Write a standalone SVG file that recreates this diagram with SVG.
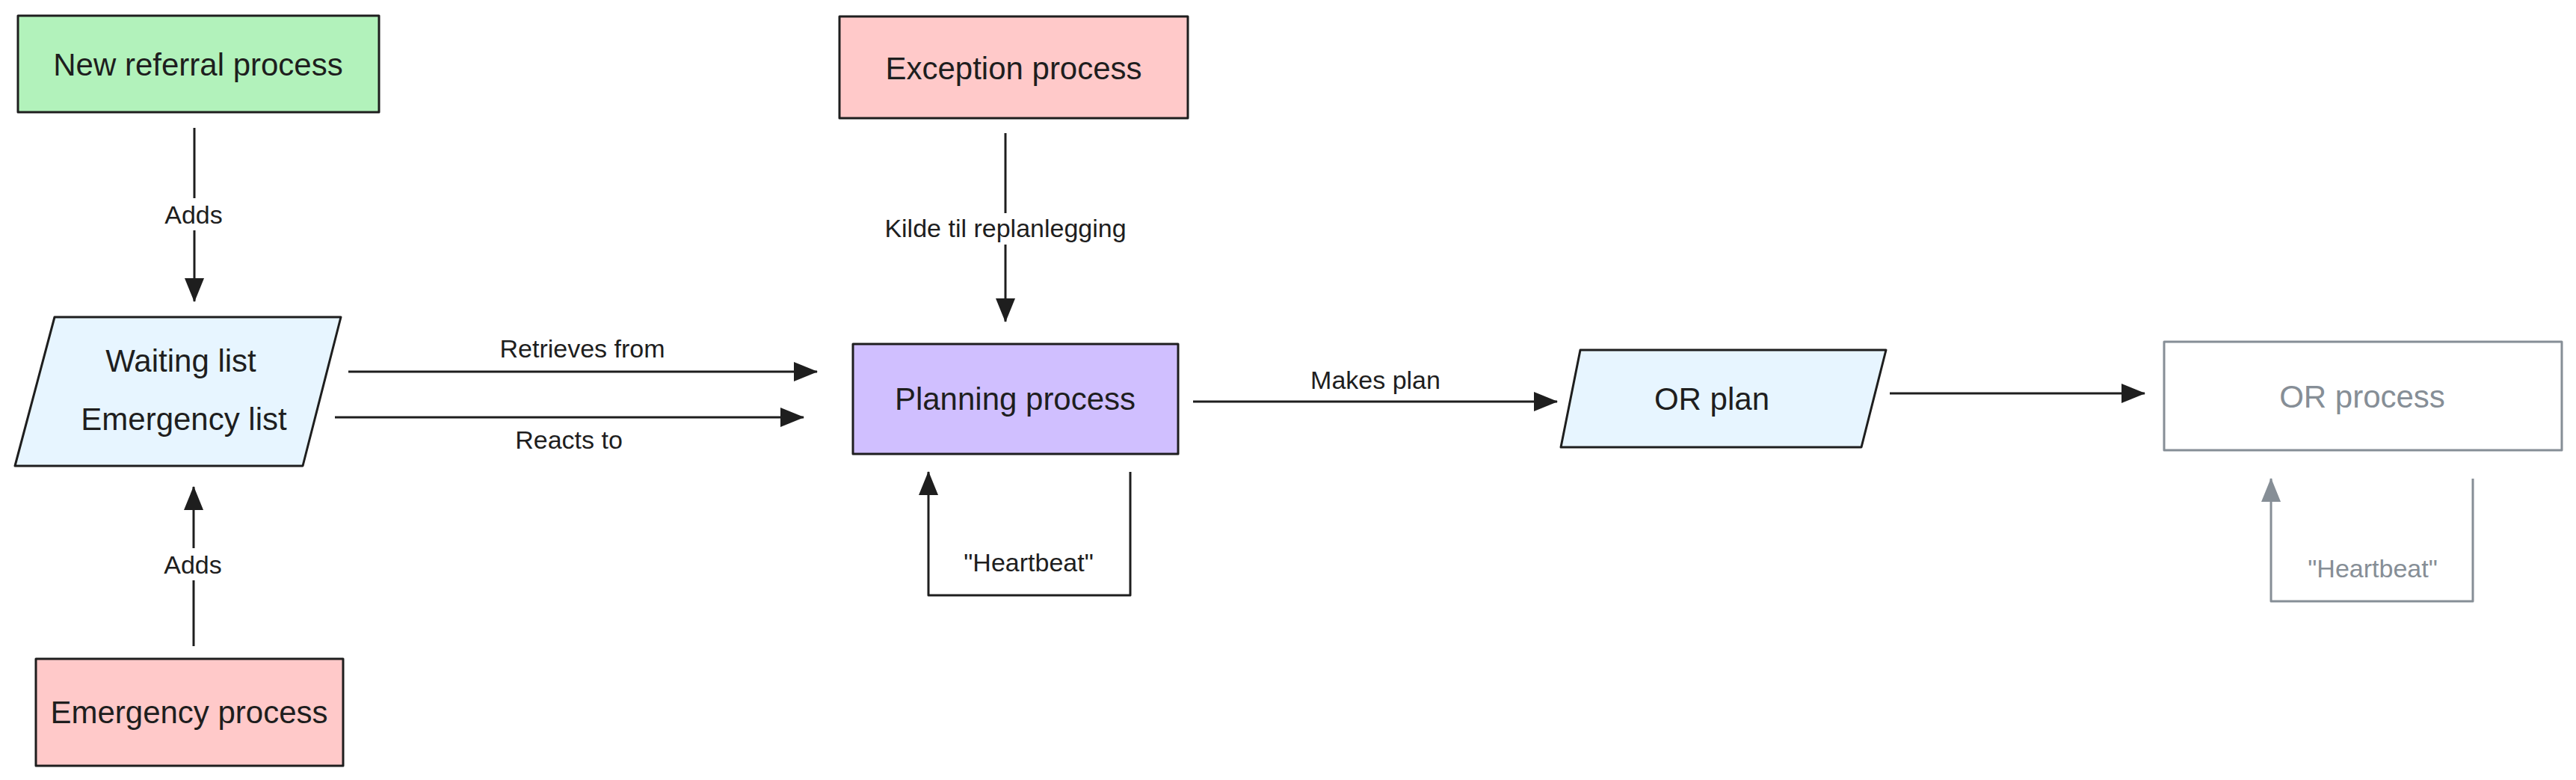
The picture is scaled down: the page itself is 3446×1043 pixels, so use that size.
<svg xmlns="http://www.w3.org/2000/svg" width="3446" height="1043" viewBox="0 0 3446 1043">
<style>
  .bg { fill: #ffffff; }
  .node { stroke: #1e1e1e; stroke-width: 3; stroke-linejoin: round; }
  .green { fill: #b2f2bb; }
  .red { fill: #ffc9c9; }
  .blue { fill: #e7f5ff; }
  .violet { fill: #d0bfff; }
  .ghost { fill: #ffffff; stroke: #868e96; }
  .ntext { font-family: "Liberation Sans", "DejaVu Sans", sans-serif; font-size: 42px; fill: #1e1e1e; text-anchor: middle; dominant-baseline: central; }
  .ntext.gray { fill: #868e96; }
  .ltext { font-family: "Liberation Sans", "DejaVu Sans", sans-serif; font-size: 34px; fill: #1e1e1e; text-anchor: middle; dominant-baseline: central; }
  .ltext.gray { fill: #868e96; }
  .conn { fill: none; stroke: #1e1e1e; stroke-width: 3; stroke-linejoin: round; }
  .conn.gray { stroke: #868e96; }
</style>
<defs>
  <marker id="ah" markerUnits="userSpaceOnUse" viewBox="0 0 32 26" markerWidth="32" markerHeight="26" refX="31" refY="13" orient="auto">
    <path d="M0,0 L32,13 L0,26 Z" fill="#1e1e1e"/>
  </marker>
  <marker id="ahg" markerUnits="userSpaceOnUse" viewBox="0 0 32 26" markerWidth="32" markerHeight="26" refX="31" refY="13" orient="auto">
    <path d="M0,0 L32,13 L0,26 Z" fill="#868e96"/>
  </marker>
</defs>
<rect class="bg" x="0" y="0" width="3446" height="1043"/>

<g id="new-referral">
  <rect class="node green" x="24" y="21" width="483" height="129"/>
  <text class="ntext" x="265" y="86">New referral process</text>
</g>

<g id="waiting-list">
  <polygon class="node blue" points="73,424 456,424 405,623 20,623"/>
  <text class="ntext" x="242" y="482">Waiting list</text>
  <text class="ntext" x="246" y="560">Emergency list</text>
</g>

<g id="emergency-process">
  <rect class="node red" x="48" y="881" width="411" height="143"/>
  <text class="ntext" x="253" y="952">Emergency process</text>
</g>

<g id="exception-process">
  <rect class="node red" x="1123" y="22" width="466" height="136"/>
  <text class="ntext" x="1356" y="91">Exception process</text>
</g>

<g id="planning-process">
  <rect class="node violet" x="1141" y="460" width="435" height="147"/>
  <text class="ntext" x="1358" y="533">Planning process</text>
</g>

<g id="or-plan">
  <polygon class="node blue" points="2114,468 2523,468 2490,598 2088,598"/>
  <text class="ntext" x="2290" y="533">OR plan</text>
</g>

<g id="or-process">
  <rect class="node ghost" x="2895" y="457" width="532" height="145"/>
  <text class="ntext gray" x="3160" y="530">OR process</text>
</g>

<g id="connectors">
  <!-- New referral -> Waiting list -->
  <line class="conn" x1="260" y1="171" x2="260" y2="265"/>
  <line class="conn" x1="260" y1="308" x2="260" y2="403" marker-end="url(#ah)"/>
  <text class="ltext" x="259" y="287">Adds</text>

  <!-- Emergency process -> Waiting list -->
  <line class="conn" x1="259" y1="864" x2="259" y2="776"/>
  <line class="conn" x1="259" y1="733" x2="259" y2="651" marker-end="url(#ah)"/>
  <text class="ltext" x="258" y="755">Adds</text>

  <!-- Waiting list -> Planning (Retrieves from) -->
  <line class="conn" x1="466" y1="497" x2="1093" y2="497" marker-end="url(#ah)"/>
  <text class="ltext" x="779" y="466">Retrieves from</text>

  <!-- Waiting list -> Planning (Reacts to) -->
  <line class="conn" x1="448" y1="558" x2="1075" y2="558" marker-end="url(#ah)"/>
  <text class="ltext" x="761" y="588">Reacts to</text>

  <!-- Exception -> Planning -->
  <line class="conn" x1="1345" y1="178" x2="1345" y2="285"/>
  <line class="conn" x1="1345" y1="327" x2="1345" y2="430" marker-end="url(#ah)"/>
  <text class="ltext" x="1345" y="305">Kilde til replanlegging</text>

  <!-- Planning heartbeat loop -->
  <polyline class="conn" points="1512,631 1512,796 1242,796 1242,631" marker-end="url(#ah)"/>
  <text class="ltext" x="1376" y="752">"Heartbeat"</text>

  <!-- Planning -> OR plan -->
  <line class="conn" x1="1596" y1="537" x2="2083" y2="537" marker-end="url(#ah)"/>
  <text class="ltext" x="1840" y="508">Makes plan</text>

  <!-- OR plan -> OR process -->
  <line class="conn" x1="2528" y1="526" x2="2869" y2="526" marker-end="url(#ah)"/>

  <!-- OR process heartbeat loop -->
  <polyline class="conn gray" points="3308,640 3308,804 3038,804 3038,640" marker-end="url(#ahg)"/>
  <text class="ltext gray" x="3174" y="760">"Heartbeat"</text>
</g>
</svg>
